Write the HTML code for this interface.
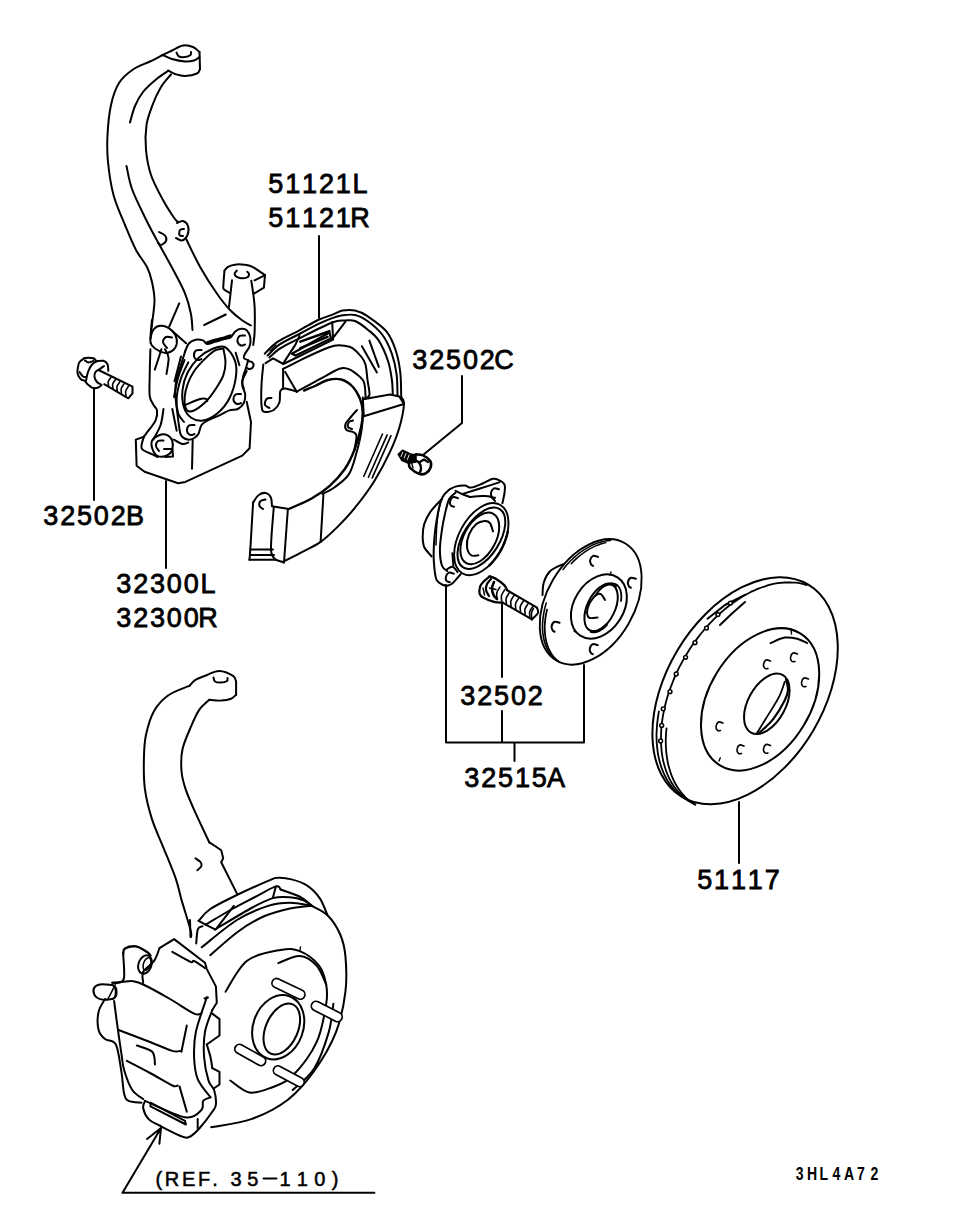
<!DOCTYPE html>
<html><head><meta charset="utf-8">
<style>
html,body{margin:0;padding:0;background:#fff;}
svg{display:block;}
.t{stroke-linejoin:miter;font-family:"Liberation Sans",sans-serif;font-size:27px;fill:#000;stroke:#000;stroke-width:0.8px;}
.s{font-family:"Liberation Sans",sans-serif;font-size:18px;font-weight:bold;fill:#000;}
.l{fill:none;stroke:#000;stroke-width:2;stroke-linecap:round;stroke-linejoin:round;}
</style></head><body>
<svg width="960" height="1210" viewBox="0 0 960 1210">
<rect width="960" height="1210" fill="#fff"/>
<g class="t">
<text x="275.8 292.7 309.5 326.4 343.2 360.1" y="193" text-anchor="middle">51121L</text>
<text x="275.8 292.7 309.5 326.4 343.2 360.1" y="227" text-anchor="middle">51121R</text>
<text x="419.8 436.7 453.5 470.4 487.2 504.1" y="369" text-anchor="middle">32502C</text>
<text x="50.8 67.7 84.5 101.3 118.2 135.1" y="525" text-anchor="middle">32502B</text>
<text x="123.8 140.7 157.5 174.3 191.2 208.1" y="593" text-anchor="middle">32300L</text>
<text x="123.8 140.7 157.5 174.3 191.2 208.1" y="627" text-anchor="middle">32300R</text>
<text x="467.8 484.7 501.5 518.4 535.2" y="705" text-anchor="middle">32502</text>
<text x="471.8 488.7 505.5 522.4 539.2 556.0" y="787" text-anchor="middle">32515A</text>
<text x="704.8 721.6 738.5 755.3 772.2" y="889" text-anchor="middle">51117</text>
<text x="158.8 172.0 188.7 204.0 215.0 225.0 236.0 252.8 269.5 285.0 302.4 319.8 335.2" y="1186" text-anchor="middle" style="font-size:20px;stroke-width:0.5px">(REF. 35<tspan style="fill:none;stroke:none">-</tspan>110)</text>
<g transform="scale(0.78 1)"><text x="1025.3 1041.0 1056.1 1072.4 1088.5 1103.8 1121.0" y="1180" text-anchor="middle" style="font-size:18px;font-weight:bold;stroke-width:0">3HL4A72</text></g>
</g>
<g class="l">
<path d="M319 236V318"/>
<path d="M462 376V423L423 455"/>
<path d="M94 388V500"/>
<path d="M166 481V568"/>
<path d="M446 585V742.5H584V665M502 604V677M502 711V742.5M514.5 742.5V761"/>
<path d="M739 802V863"/>
<path d="M263.5 1178.5H276.5"/>
<path d="M122.5 1192.8H374.4M122.5 1192.8L161 1128M147 1139L161 1128L159.4 1143.7"/>
<path d="M162.5 55.0 C164.1 54.2 168.6 52.1 172.0 50.5 C175.4 48.9 179.5 46.1 183.0 45.5 C186.5 44.9 190.2 45.9 193.0 47.0 C195.8 48.1 198.4 51.2 199.5 52.0"/>
<path d="M199.5 52.0 L200.0 69.0"/>
<path d="M200.0 69.0 C199.5 69.8 199.5 72.3 197.0 73.5 C194.5 74.7 188.7 75.9 185.0 76.0 C181.3 76.1 177.8 74.9 175.0 74.0 C172.2 73.1 169.2 71.1 168.0 70.5"/>
<path d="M162.5 55.0 C164.1 55.7 168.2 57.9 172.0 59.0 C175.8 60.1 181.3 61.2 185.0 61.5 C188.7 61.8 191.6 61.2 194.0 60.5 C196.4 59.8 198.6 57.6 199.5 57.0"/>
<path d="M176.5 52.5 C176.9 53.2 177.6 55.8 179.0 56.5 C180.4 57.2 183.1 57.2 185.0 57.0 C186.9 56.8 189.5 55.8 190.5 55.0 C191.5 54.2 190.9 52.5 191.0 52.0"/>
<path d="M162.5 55.0 C160.4 56.1 154.9 59.1 150.0 61.5 C145.1 63.9 138.2 65.9 133.0 69.5 C127.8 73.1 122.7 77.1 119.0 83.0 C115.3 88.9 112.9 96.3 111.0 105.0 C109.1 113.7 108.0 125.5 107.5 135.0 C107.0 144.5 107.0 152.0 108.0 162.0 C109.0 172.0 110.7 184.5 113.5 195.0 C116.3 205.5 121.2 215.8 125.0 225.0 C128.8 234.2 132.3 243.0 136.0 250.0 C139.7 257.0 144.3 261.7 147.0 267.0 C149.7 272.3 150.8 276.5 152.0 282.0 C153.2 287.5 154.4 293.7 154.5 300.0 C154.6 306.3 153.1 314.5 152.5 320.0 C151.9 325.5 151.1 330.8 150.8 333.0"/>
<path d="M168.0 71.0 C166.0 72.4 160.2 76.0 156.0 79.5 C151.8 83.0 146.5 87.6 143.0 92.0 C139.5 96.4 137.2 100.9 135.0 106.0 C132.8 111.1 130.8 119.8 130.0 122.5"/>
<path d="M171.0 74.5 C169.3 76.6 164.1 81.9 161.0 87.0 C157.9 92.1 154.9 98.7 152.5 105.0 C150.1 111.3 147.6 117.5 146.5 125.0 C145.4 132.5 145.2 141.7 146.0 150.0 C146.8 158.3 148.2 166.7 151.0 175.0 C153.8 183.3 159.3 193.1 163.0 200.0 C166.7 206.9 170.9 213.1 173.3 216.7 C175.7 220.3 176.8 220.9 177.5 221.7"/>
<path d="M126.5 166.0 C127.4 169.8 128.9 180.4 132.0 189.0 C135.1 197.6 141.2 209.6 145.0 217.5 C148.8 225.4 150.3 227.9 155.0 236.7 C159.7 245.4 168.3 260.6 173.3 270.0 C178.3 279.4 182.1 286.1 185.0 293.3 C187.9 300.5 189.6 307.2 190.8 313.3 C192.1 319.4 192.2 327.2 192.5 330.0"/>
<path d="M177.0 223.0 C178.0 222.7 181.2 220.5 183.0 221.0 C184.8 221.5 187.2 223.7 188.0 226.0 C188.8 228.3 188.5 232.6 187.5 235.0 C186.5 237.4 183.9 240.0 182.0 240.5 C180.1 241.0 177.0 238.4 176.0 238.0"/>
<path d="M184.0 229.0 C183.3 229.2 180.8 229.0 180.0 230.0 C179.2 231.0 179.0 234.0 179.5 235.0 C180.0 236.0 182.4 235.8 183.0 236.0"/>
<path d="M159.0 232.0 C160.0 232.6 163.8 234.0 165.0 235.5 C166.2 237.0 166.7 239.4 166.0 241.0 C165.3 242.6 162.3 244.7 161.0 245.0 C159.7 245.3 158.5 243.3 158.0 243.0"/>
<path d="M185.8 238.3 C188.2 243.0 194.8 257.5 200.0 266.7 C205.2 275.9 211.7 286.1 216.7 293.3 C221.7 300.5 225.8 305.6 230.0 310.0 C234.2 314.4 238.2 317.4 241.7 320.0 C245.2 322.6 249.3 324.6 250.8 325.5"/>
<path d="M179.2 303.3 L169.2 326.7"/>
<path d="M204.2 325.0 L225.8 314.5"/>
<path d="M224.5 270.6 C225.1 270.0 226.2 267.9 227.9 266.9 C229.6 265.9 231.9 265.1 234.6 264.7 C237.3 264.3 241.2 264.3 244.2 264.7 C247.2 265.1 248.9 265.2 252.4 266.9 C255.9 268.6 262.9 273.7 265.0 275.1"/>
<path d="M224.5 270.6 C224.3 273.0 223.5 281.7 223.4 284.8 C223.3 287.9 222.8 287.8 223.8 289.2 C224.9 290.6 228.7 292.4 229.7 293.0"/>
<path d="M265.0 275.1 L263.9 287.7 L253.9 293.7"/>
<path d="M254.6 280.3 L263.6 275.8"/>
<path d="M232.0 280.3 L229.0 307.0"/>
<path d="M251.3 280.7 C251.9 285.0 254.1 297.7 254.6 306.3 C255.1 314.9 254.8 325.9 254.6 332.4 C254.4 338.8 253.4 342.9 253.2 345.0"/>
<path d="M236.8 270.6 C236.4 271.2 234.1 273.1 234.6 274.3 C235.1 275.5 237.7 277.5 239.8 278.0 C241.9 278.5 245.6 278.0 247.2 277.3 C248.8 276.6 249.1 274.9 249.1 274.0 C249.1 273.1 247.5 272.1 247.2 271.7"/>
<path d="M151.9 320.0 C151.7 322.2 151.1 329.8 150.8 333.0 C150.6 336.2 150.5 338.0 150.4 339.0"/>
<path d="M150.4 339.0 C150.8 336.2 152.2 330.9 154.1 328.8 C156.0 326.6 159.1 325.4 162.1 325.8 C165.1 326.2 169.9 328.7 172.3 330.9 C174.7 333.1 176.2 336.2 176.7 339.0 C177.2 341.8 176.7 345.4 175.2 347.7 C173.7 350.0 170.4 352.2 167.9 352.8 C165.4 353.4 162.6 352.6 159.9 351.4 C157.2 350.2 153.5 347.6 151.9 345.5 C150.3 343.4 150.0 341.8 150.4 339.0Z"/>
<path d="M172.0 337.5 C171.0 337.4 167.5 336.2 166.0 337.0 C164.5 337.8 162.8 340.2 163.0 342.0 C163.2 343.8 166.3 347.0 167.0 348.0"/>
<path d="M172.3 331.0 L186.1 343.3"/>
<path d="M150.4 349.2 C150.3 353.6 149.8 367.6 149.7 375.4 C149.6 383.2 149.1 390.9 149.7 395.8 C150.3 400.7 152.1 402.2 153.3 404.6 C154.5 407.0 156.6 407.7 157.0 410.4 C157.4 413.1 157.3 416.7 155.5 420.6 C153.7 424.5 147.9 431.1 146.0 433.8 C144.1 436.4 144.2 436.2 143.9 436.7"/>
<path d="M154.8 369.6 C155.3 368.0 156.9 363.4 158.0 360.0 C159.1 356.6 160.8 351.0 161.4 349.2"/>
<path d="M165.0 349.2 C165.6 350.7 168.3 353.9 168.6 358.0 C168.8 362.1 166.8 371.3 166.5 374.0"/>
<path d="M163.5 409.0 C163.0 411.7 162.3 419.9 160.6 425.0 C158.9 430.1 154.5 437.2 153.3 439.6"/>
<path d="M172.3 409.0 L176.7 430.8"/>
<path d="M185.4 350.6 C186.0 349.4 187.3 345.1 189.0 343.3 C190.7 341.5 193.3 340.2 195.6 339.7 C197.9 339.2 200.9 339.7 202.9 340.4 C204.9 341.1 205.4 343.8 207.3 344.0 C209.2 344.2 211.7 342.7 214.6 341.9 C217.5 341.1 222.1 339.7 224.8 339.0 C227.5 338.3 228.9 338.7 230.6 337.5 C232.3 336.3 233.3 333.2 235.0 331.7 C236.7 330.2 238.9 329.0 240.8 328.8 C242.8 328.5 245.1 328.7 246.7 330.2 C248.3 331.7 249.8 334.8 250.3 337.5 C250.8 340.2 250.4 343.6 249.6 346.2 C248.8 348.9 246.2 351.5 245.2 353.5 C244.2 355.5 243.3 356.9 243.8 358.0 C244.2 359.1 247.4 359.8 248.1 360.1"/>
<path d="M248.1 360.1 C247.8 361.4 246.8 365.2 246.0 368.0 C245.2 370.8 243.6 374.0 243.0 376.9 C242.4 379.8 241.9 382.7 242.3 385.6 C242.7 388.5 245.0 391.5 245.2 394.4 C245.4 397.3 245.0 400.6 243.8 403.0 C242.5 405.4 240.3 407.8 237.9 409.0 C235.5 410.2 232.1 409.4 229.2 410.4 C226.3 411.4 224.1 413.1 220.4 414.8 C216.8 416.5 210.5 418.9 207.3 420.6 C204.2 422.3 203.0 422.8 201.5 425.0 C200.0 427.2 199.7 431.6 198.5 433.8 C197.3 435.9 196.0 437.0 194.2 438.0 C192.4 439.0 189.8 440.1 187.6 439.6 C185.4 439.1 182.4 437.6 181.0 435.2 C179.6 432.8 179.6 429.6 178.9 425.0 C178.2 420.4 177.3 412.8 176.7 407.5 C176.1 402.2 175.2 397.9 175.2 393.0 C175.2 388.1 175.6 383.4 176.7 378.3 C177.8 373.2 180.4 366.9 181.8 362.3 C183.2 357.7 184.8 352.6 185.4 350.6"/>
<path d="M207.3 342.5 C208.5 342.1 211.7 340.8 214.6 340.0 C217.5 339.2 222.1 338.2 224.8 337.5 C227.5 336.8 229.6 335.8 230.6 335.5" stroke-width="2.5"/>
<path d="M248.0 361.0 C248.7 361.2 251.1 361.2 252.0 362.0 C252.9 362.8 253.8 364.8 253.5 366.0 C253.2 367.2 251.1 368.7 250.0 369.0 C248.9 369.3 247.5 368.2 247.0 368.0"/>
<path d="M201.5 350.0 C200.6 350.1 197.2 349.5 196.0 350.5 C194.8 351.5 193.8 354.4 194.0 356.0 C194.2 357.6 196.2 359.5 197.5 360.0 C198.8 360.5 200.8 359.2 201.5 359.0"/>
<path d="M245.0 335.5 C244.1 335.6 240.8 335.0 239.5 336.0 C238.2 337.0 237.2 339.9 237.5 341.5 C237.8 343.1 239.8 345.0 241.0 345.5 C242.2 346.0 244.3 344.7 245.0 344.5"/>
<path d="M241.0 394.0 C240.1 394.1 236.8 393.5 235.5 394.5 C234.2 395.5 233.2 398.4 233.5 400.0 C233.8 401.6 235.8 403.5 237.0 404.0 C238.2 404.5 240.3 403.2 241.0 403.0"/>
<path d="M194.5 425.0 C193.6 425.1 190.2 424.5 189.0 425.5 C187.8 426.5 186.8 429.4 187.0 431.0 C187.2 432.6 189.2 434.5 190.5 435.0 C191.8 435.5 193.8 434.2 194.5 434.0"/>
<path d="M224.8 347.0 C228.7 348.9 233.2 355.6 235.0 360.8 C236.8 366.0 236.7 372.0 235.7 378.3 C234.7 384.6 232.2 392.9 229.2 398.8 C226.2 404.6 221.9 409.7 217.5 413.3 C213.1 416.9 207.3 419.9 202.9 420.6 C198.5 421.3 194.4 419.9 191.2 417.7 C188.1 415.5 185.5 412.1 184.0 407.5 C182.5 402.9 181.9 395.8 182.5 390.0 C183.1 384.2 184.9 377.9 187.6 372.5 C190.3 367.1 194.5 361.8 198.5 357.9 C202.5 354.0 207.3 351.0 211.7 349.2 C216.1 347.4 220.9 345.1 224.8 347.0Z"/>
<path d="M223.3 348.4 C223.7 350.7 225.5 357.8 225.5 362.3 C225.5 366.8 224.9 371.0 223.3 375.4 C221.7 379.8 218.9 384.1 216.0 388.5 C213.1 392.9 209.7 397.9 205.8 401.7 C201.9 405.4 196.0 409.8 192.7 411.0 C189.4 412.2 187.4 411.3 186.1 409.0 C184.8 406.7 184.4 401.4 184.7 397.3 C184.9 393.2 186.0 388.6 187.6 384.2 C189.2 379.8 191.4 375.1 194.2 371.0 C197.0 366.9 201.0 362.8 204.4 359.4 C207.8 356.0 211.4 352.4 214.6 350.6 C217.8 348.8 221.9 348.8 223.3 348.4"/>
<path d="M186.1 404.6 C188.2 403.8 195.2 400.5 198.5 399.5 C201.8 398.5 204.3 398.5 205.8 398.8 C207.3 399.0 207.1 400.6 207.3 401.0"/>
<path d="M181.0 356.5 L174.5 381.2"/>
<path d="M188.3 362.3 C187.1 365.0 182.9 372.5 181.0 378.3 C179.1 384.1 177.2 391.5 176.7 397.3 C176.2 403.1 176.9 409.2 178.1 413.3 C179.3 417.4 183.0 420.6 184.0 422.0"/>
<path d="M184.5 360.0 C183.4 363.0 179.8 371.8 178.0 378.0 C176.2 384.2 174.7 393.8 174.0 397.0"/>
<path d="M235.7 352.8 L239.4 365.2"/>
<path d="M246.7 371.0 C246.0 372.7 242.8 378.3 242.3 381.2 C241.8 384.2 243.5 387.3 243.8 388.5"/>
<path d="M143.9 436.7 L135.8 439.6 L136.6 465.8 L144.6 471.7 L178.1 483.3 L185.4 481.9 L242.3 455.6 L249.6 448.3 L251.0 422.0 L246.7 401.7"/>
<path d="M143.9 436.7 C143.5 438.6 140.4 445.4 141.7 448.3 C143.0 451.2 149.2 452.8 151.9 454.2 C154.6 455.6 156.7 456.5 157.7 457.0"/>
<path d="M151.9 441.0 C152.9 438.3 156.6 436.2 159.2 435.2 C161.8 434.2 165.0 434.2 167.2 435.2 C169.4 436.2 171.6 438.3 172.3 441.0 C173.0 443.7 172.6 448.8 171.6 451.2 C170.6 453.7 168.7 454.7 166.5 455.6 C164.3 456.5 160.6 457.1 158.4 456.4 C156.2 455.7 154.4 453.8 153.3 451.2 C152.2 448.7 150.9 443.7 151.9 441.0Z"/>
<path d="M163.5 440.5 C162.6 440.6 159.2 440.1 158.0 441.0 C156.8 441.9 155.8 444.3 156.0 446.0 C156.2 447.7 158.5 450.2 159.0 451.0"/>
<path d="M164.0 449.0 L172.5 449.0 L173.0 456.5 L165.0 457.0"/>
<path d="M173.8 439.6 C175.2 440.3 180.1 443.5 182.5 444.0 C184.9 444.5 187.3 442.8 188.3 442.5"/>
<path d="M192.7 439.6 L192.0 468.8"/>
<path d="M84.2 358.3 C84.8 358.2 86.5 357.8 88.0 357.8 C89.5 357.8 91.8 357.7 93.3 358.3 C94.8 358.9 96.1 360.8 96.7 361.2"/>
<path d="M96.7 361.2 C97.8 361.2 101.5 360.3 103.3 360.8 C105.1 361.3 106.7 362.5 107.5 364.2 C108.3 365.9 108.2 369.7 108.3 370.8"/>
<path d="M84.2 358.3 C83.4 358.9 80.5 360.6 79.5 362.0 C78.5 363.4 78.3 365.1 78.0 367.0 C77.7 368.9 77.0 371.3 77.5 373.3 C78.0 375.3 79.5 377.9 80.8 379.2 C82.0 380.4 84.3 380.5 85.0 380.8"/>
<path d="M85.0 380.8 C85.4 381.4 86.2 383.0 87.5 384.2 C88.8 385.4 90.7 387.3 92.5 387.9 C94.3 388.4 96.8 388.0 98.3 387.5 C99.8 387.0 101.1 385.4 101.7 385.0"/>
<path d="M96.7 361.2 C95.9 361.8 93.5 362.7 92.0 364.5 C90.5 366.3 89.0 369.2 88.0 372.0 C87.0 374.8 86.3 379.5 86.0 381.0"/>
<path d="M85.0 360.5 C85.6 360.8 87.1 362.4 88.5 362.5 C89.9 362.6 92.7 361.2 93.5 361.0"/>
<path d="M79.5 372.0 C80.1 372.8 82.0 375.7 83.0 376.5 C84.0 377.3 85.1 376.9 85.5 377.0"/>
<path d="M104.0 366.0 C103.2 366.6 100.4 368.5 99.0 369.5 C97.6 370.5 96.2 370.8 95.5 372.0 C94.8 373.2 94.2 375.3 94.5 377.0 C94.8 378.7 95.9 380.8 97.0 382.0 C98.1 383.2 100.3 384.1 101.0 384.5"/>
<path d="M99.5 370.5 L132.5 386.7 L132.5 393.3 L128.3 398.3 L104.2 384.2"/>
<path d="M111.0 377.4 C110.5 378.1 108.6 380.2 108.2 381.6 C107.8 383.0 108.5 385.0 108.5 385.7" stroke-width="1.6"/>
<path d="M115.5 379.7 C115.0 380.4 113.1 382.6 112.7 384.0 C112.3 385.5 113.0 387.6 113.0 388.3" stroke-width="1.6"/>
<path d="M119.8 381.8 C119.3 382.6 117.4 384.9 117.0 386.4 C116.6 387.9 117.2 390.1 117.3 390.9" stroke-width="1.6"/>
<path d="M124.0 383.9 C123.5 384.7 121.6 387.1 121.2 388.6 C120.8 390.2 121.5 392.5 121.5 393.3" stroke-width="1.6"/>
<path d="M128.5 386.2 C128.0 387.0 126.1 389.4 125.7 391.1 C125.3 392.7 126.0 395.1 126.0 395.9" stroke-width="1.6"/>
<path d="M264.7 353.7 C266.9 351.7 272.0 345.5 277.8 341.6 C283.6 337.7 292.7 333.9 299.4 330.3 C306.1 326.7 312.5 322.6 318.1 320.0 C323.7 317.4 329.0 316.0 333.1 314.4 C337.2 312.8 338.9 311.2 342.5 310.6 C346.1 310.0 350.8 309.7 355.0 310.6 C359.2 311.5 362.3 312.8 367.5 316.2 C372.7 319.7 381.6 325.6 386.2 331.2 C390.9 336.9 393.3 343.1 395.6 350.0 C397.9 356.9 399.4 364.7 400.3 372.5 C401.2 380.3 401.1 392.8 401.2 396.9"/>
<path d="M267.5 355.6 C269.5 353.7 274.4 348.0 279.7 344.4 C285.0 340.8 292.8 337.4 299.4 334.0 C305.9 330.6 313.5 326.3 319.0 323.7 C324.5 321.1 328.3 319.5 332.2 318.1 C336.1 316.7 338.7 315.8 342.5 315.3 C346.3 314.8 350.8 314.1 355.0 315.0 C359.2 315.9 362.9 317.7 367.5 321.0 C372.1 324.3 378.4 329.5 382.5 335.0 C386.6 340.5 389.5 347.2 391.9 353.8 C394.2 360.3 395.7 367.5 396.6 374.4 C397.5 381.3 397.4 391.6 397.5 395.0"/>
<path d="M269.4 357.5 C271.3 355.9 275.8 351.3 280.6 348.2 C285.4 345.1 289.8 343.1 298.4 338.8 C307.0 334.5 324.3 325.6 332.2 322.5 C340.1 319.4 341.7 320.8 345.5 320.5 C349.3 320.2 351.3 319.5 355.0 321.0 C358.7 322.5 363.5 326.1 367.5 329.4 C371.5 332.7 375.3 335.3 378.8 340.6 C382.2 345.9 385.9 354.7 388.1 361.2 C390.3 367.8 391.1 374.4 391.9 380.0 C392.7 385.6 392.6 392.5 392.8 395.0"/>
<path d="M265.6 363.1 L273.1 358.4 L283.4 364.0 L333.1 339.7 L332.2 321.9"/>
<path d="M333.1 337.8 L345.3 321.9"/>
<path d="M283.4 363.1 L295.6 344.4 L299.4 335.9"/>
<path d="M291.9 353.7 L329.5 332.5 L331.0 338.5 L295.6 355.6 L291.9 353.7" stroke-width="2.2"/>
<path d="M300.3 341.6 L329.4 331.2" stroke-width="2.6"/>
<path d="M300.3 348.1 L327.5 336.9" stroke-width="2.6"/>
<path d="M276.0 345.0 L270.0 351.0" stroke-width="1.2"/>
<path d="M263.3 364.6 C263.0 368.0 261.8 378.1 261.5 385.0 C261.2 391.9 261.1 401.8 261.6 406.2 C262.1 410.7 262.4 411.3 264.4 411.9 C266.4 412.5 271.2 411.6 273.8 410.0 C276.2 408.4 278.3 405.6 279.4 402.5 C280.5 399.4 279.4 393.6 280.3 391.2 C281.2 388.9 282.3 388.3 285.0 388.4 C287.7 388.5 294.8 391.1 296.7 391.7"/>
<path d="M271.5 398.0 C270.7 398.2 267.6 397.8 266.5 399.0 C265.4 400.2 264.5 403.5 265.0 405.0 C265.5 406.5 268.8 407.5 269.5 408.0"/>
<path d="M283.1 368.8 C286.2 367.2 295.8 362.4 301.9 359.4 C308.0 356.4 314.6 353.3 320.0 351.0 C325.4 348.7 330.1 346.7 334.2 345.8 C338.3 344.9 341.6 345.4 344.6 345.8 C347.7 346.2 349.6 346.2 352.5 348.1 C355.4 350.1 359.7 354.7 361.9 357.5 C364.1 360.3 364.7 361.2 365.6 365.0 C366.5 368.8 366.9 375.0 367.5 380.0 C368.1 385.0 370.0 391.9 369.4 395.0 C368.8 398.1 364.7 398.1 363.8 398.8"/>
<path d="M283.1 368.8 L283.1 388.5"/>
<path d="M285.2 371.9 L296.7 391.7"/>
<path d="M296.7 391.7 C300.5 389.6 312.5 383.0 319.6 379.2 C326.7 375.4 334.7 370.5 339.4 368.8 C344.1 367.0 345.1 368.1 347.7 368.8 C350.3 369.4 352.3 370.7 355.0 372.9 C357.7 375.1 362.0 377.9 363.8 381.9 C365.5 385.9 365.3 394.4 365.6 396.9"/>
<path d="M304.0 390.6 C305.8 389.8 311.0 387.8 315.0 386.0 C319.0 384.2 323.6 381.1 328.0 380.0 C332.4 378.9 337.2 378.4 341.2 379.5 C345.3 380.6 349.4 383.3 352.5 386.5 C355.6 389.7 358.3 394.5 360.0 398.8 C361.7 403.0 362.6 407.1 362.8 411.9 C363.0 416.7 362.4 421.1 361.0 427.5 C359.6 433.9 357.1 443.1 354.4 450.0 C351.7 456.9 349.1 462.8 345.0 468.8 C340.9 474.7 335.6 480.6 330.0 485.6 C324.4 490.6 318.1 494.9 311.2 498.8 C304.4 502.6 292.5 507.3 288.8 509.0" stroke-width="2.4"/>
<path d="M363.0 400.0 C362.8 404.5 363.1 418.0 362.0 427.0 C360.9 436.0 358.5 445.9 356.2 453.8 C354.0 461.6 352.3 468.9 348.8 474.4 C345.2 479.9 339.4 483.7 335.0 487.0 C330.6 490.3 324.6 492.8 322.5 494.0"/>
<path d="M369.4 340.6 L378.8 366.9"/>
<path d="M361.9 346.2 L376.9 372.5"/>
<path d="M364.7 399.0 L390.0 394.5 L399.4 396.6 L404.0 404.0 L363.8 416.2"/>
<path d="M362.8 397.5 L363.8 416.2"/>
<path d="M401.2 396.9 C401.7 398.1 404.3 398.9 404.0 404.0 C403.7 409.1 401.7 419.5 399.4 427.5 C397.1 435.5 394.1 443.1 390.0 451.9 C385.9 460.6 380.6 470.9 375.0 480.0 C369.4 489.1 362.5 498.4 356.2 506.2 C350.0 514.1 343.4 521.0 337.5 526.9 C331.6 532.8 326.9 537.5 320.6 541.9 C314.4 546.3 306.2 549.8 300.0 553.1 C293.8 556.4 285.9 560.2 283.1 561.6"/>
<path d="M357.0 410.0 C355.8 411.3 351.9 415.7 350.0 418.0 C348.1 420.3 346.1 422.0 345.5 424.0 C344.9 426.0 345.2 428.7 346.5 430.0 C347.8 431.3 351.3 431.0 353.0 432.0 C354.7 433.0 356.3 433.0 356.5 436.0 C356.7 439.0 354.8 447.7 354.4 450.0"/>
<path d="M353.0 420.5 C352.3 420.8 349.8 420.9 349.0 422.0 C348.2 423.1 347.5 425.8 348.0 427.0 C348.5 428.2 351.3 428.7 352.0 429.0"/>
<path d="M382.5 434.0 L363.8 476.2" stroke-width="1.6"/>
<path d="M387.2 434.9 L368.4 477.2" stroke-width="1.6"/>
<path d="M391.0 435.7 L372.2 477.9" stroke-width="1.6"/>
<path d="M253.1 502.5 C254.0 501.2 256.6 496.6 258.8 495.0 C260.9 493.4 264.2 492.6 266.2 493.1 C268.3 493.6 270.1 495.8 271.0 497.8 C271.9 499.8 271.8 504.1 271.9 505.3"/>
<path d="M271.9 506.2 L288.8 509.0"/>
<path d="M253.1 502.5 C252.6 510.3 250.9 539.9 250.3 549.4 C249.7 558.9 249.6 558.0 249.4 559.7"/>
<path d="M249.4 559.7 L275.6 559.7 L284.0 562.5"/>
<path d="M250.3 549.4 L273.0 549.4"/>
<path d="M250.0 555.0 L274.0 555.0"/>
<path d="M273.8 507.2 C273.3 514.2 270.7 540.6 271.0 549.4 C271.3 558.1 274.8 558.0 275.6 559.7"/>
<path d="M287.8 510.0 L284.0 562.5"/>
<path d="M323.4 495.0 L320.6 541.9"/>
<path d="M265.5 499.5 C264.7 499.8 261.5 499.9 260.5 501.0 C259.5 502.1 259.1 504.7 259.5 506.0 C259.9 507.3 262.4 508.5 263.0 509.0"/>
<path d="M398.3 454.4 L402.5 450.2 L411.4 454.4 L416 455 L416 462 L408.6 463.2 L402 460.5 Z" style="fill:#000;stroke-width:1.6px"/>
<path d="M402.8 452.3 L401.0 456.5" style="stroke:#fff;stroke-width:0.9px"/>
<path d="M406.0 453.6 L404.2 458.0" style="stroke:#fff;stroke-width:0.9px"/>
<path d="M409.2 454.9 L407.4 459.5" style="stroke:#fff;stroke-width:0.9px"/>
<path d="M416.1 454.4 C417.3 454.5 420.8 454.2 423.1 455.3 C425.5 456.4 428.9 459.0 430.2 461.0 C431.4 463.0 431.3 465.5 430.6 467.5 C429.9 469.5 427.8 472.0 426.0 473.1 C424.2 474.2 422.4 474.9 419.8 474.1 C417.2 473.3 412.3 470.1 410.5 468.4 C408.7 466.7 408.9 465.6 409.0 463.8 C409.1 461.9 409.8 458.6 411.0 457.0 C412.2 455.4 415.2 454.8 416.1 454.4" stroke-width="2.6"/>
<path d="M414.5 460.0 C415.2 460.4 417.9 461.1 419.0 462.5 C420.1 463.9 420.9 466.7 421.0 468.5 C421.1 470.3 419.8 472.7 419.5 473.5" stroke-width="2.4"/>
<path d="M419.0 462.5 L424.0 459.5 L428.0 462.0" stroke-width="2.2"/>
<path d="M411.5 462.0 L413.0 468.0" stroke-width="1.4"/>
<path d="M442.0 499.0 C440.1 501.1 433.5 507.4 430.5 511.6 C427.5 515.8 425.6 519.9 424.2 524.1 C422.9 528.3 422.7 532.8 422.7 536.6 C422.7 540.4 422.8 543.7 424.2 547.0 C425.7 550.3 430.3 554.8 431.5 556.4"/>
<path d="M449.2 489.7 C450.3 489.2 452.9 487.3 455.5 486.6 C458.1 485.9 462.3 485.3 464.9 485.5 C467.5 485.7 468.2 487.9 471.1 487.6 C474.1 487.3 479.0 485.0 482.6 483.5 C486.2 482.0 490.2 479.3 493.0 478.8 C495.8 478.3 497.3 479.4 499.2 480.3 C501.2 481.2 503.6 482.4 504.5 484.5 C505.4 486.6 504.9 489.7 504.5 492.8 C504.1 495.9 502.8 501.5 502.4 503.2"/>
<path d="M449.2 489.7 C448.4 490.6 445.4 493.0 444.0 494.9 C442.6 496.8 441.9 498.1 440.9 501.2 C439.9 504.3 438.8 508.2 437.8 513.7 C436.8 519.2 435.4 527.6 434.7 534.5 C434.0 541.4 433.6 549.2 433.6 555.3 C433.6 561.4 434.2 566.8 434.7 571.0 C435.2 575.2 435.5 578.0 436.8 580.3 C438.0 582.5 440.1 583.6 442.0 584.5 C443.9 585.4 446.3 585.9 448.2 585.5 C450.1 585.1 451.3 584.3 453.4 582.4 C455.5 580.5 459.5 575.5 460.7 574.1"/>
<path d="M455.5 492.8 C454.5 493.8 451.0 495.5 449.2 499.0 C447.5 502.5 446.2 508.7 445.0 513.7 C443.8 518.8 442.9 523.2 442.0 529.3 C441.1 535.4 439.9 544.0 439.9 550.1 C439.9 556.2 440.8 562.3 442.0 565.8 C443.2 569.2 446.3 570.1 447.2 571.0"/>
<path d="M440.9 500.1 C440.4 502.7 438.5 510.8 437.8 515.8 C437.1 520.7 436.8 525.1 436.5 530.0 C436.2 534.9 436.1 542.5 436.0 545.0" stroke-width="1.5"/>
<path d="M455.5 490.8 C456.6 491.3 459.6 493.0 462.0 494.0 C464.4 495.0 468.7 496.5 470.0 497.0"/>
<path d="M462.8 493.9 C465.7 493.0 473.9 490.4 480.0 488.5 C486.1 486.6 496.0 483.4 499.2 482.4"/>
<path d="M470.0 497.0 C472.0 496.8 478.7 496.1 482.0 496.0 C485.3 495.9 487.8 495.7 490.0 496.5 C492.2 497.3 494.2 500.2 495.0 501.0"/>
<path d="M452.4 553.2 L453.4 565.8"/>
<path d="M446.1 569.9 C447.2 569.4 450.5 566.4 452.4 566.8 C454.3 567.1 456.7 571.1 457.6 572.0"/>
<path d="M458.0 498.2 C457.2 498.0 454.3 496.6 453.0 497.2 C451.7 497.8 450.3 500.3 450.0 501.7 C449.7 503.1 450.3 504.9 451.0 505.7 C451.7 506.5 453.5 506.5 454.0 506.7"/>
<path d="M499.0 489.3 C498.2 489.1 495.3 487.7 494.0 488.3 C492.7 488.9 491.3 491.4 491.0 492.8 C490.7 494.2 491.3 496.0 492.0 496.8 C492.7 497.6 494.5 497.6 495.0 497.8"/>
<path d="M453.8 573.7 C453.0 573.5 450.1 572.1 448.8 572.7 C447.5 573.3 446.1 575.8 445.8 577.2 C445.5 578.6 446.1 580.4 446.8 581.2 C447.5 582.0 449.3 582.0 449.8 582.2"/>
<ellipse cx="481.3" cy="539.1" rx="39.1" ry="22.5" transform="rotate(-61.5 481.3 539.1)" fill="#fff" stroke-width="1.9"/>
<ellipse cx="481.4" cy="538.2" rx="34.4" ry="18.1" transform="rotate(-57.8 481.4 538.2)" fill="none" stroke-width="2"/>
<ellipse cx="479.8" cy="538.4" rx="28.1" ry="15.9" transform="rotate(-61.2 479.8 538.4)" fill="none" stroke-width="2"/>
<path d="M493.0 531.4 C492.5 530.0 491.3 524.7 489.9 523.0 C488.5 521.3 487.0 520.8 484.7 521.0 C482.4 521.2 478.9 521.9 476.3 524.1 C473.7 526.4 470.6 530.7 469.0 534.5 C467.4 538.3 466.6 543.5 467.0 547.0 C467.4 550.5 469.2 553.9 471.1 555.3 C473.0 556.7 477.2 555.3 478.4 555.3"/>
<path d="M507.8 531.2 C507.7 531.6 507.4 532.9 507.3 533.7 C507.1 534.5 506.9 535.3 506.6 536.2 C506.4 537.0 506.1 537.9 505.9 538.7 C505.6 539.5 505.3 540.4 505.0 541.2 C504.7 542.0 504.4 542.9 504.0 543.7 C503.7 544.5 503.3 545.4 502.9 546.2 C502.5 547.0 502.1 547.8 501.7 548.6 C501.3 549.4 500.9 550.2 500.4 551.0 C500.0 551.8 499.5 552.6 499.0 553.4 C498.5 554.1 498.0 554.9 497.5 555.6 C497.0 556.4 496.5 557.1 496.0 557.8 C495.4 558.5 494.9 559.2 494.3 559.9 C493.8 560.6 493.2 561.3 492.6 561.9 C492.1 562.6 491.5 563.2 490.9 563.8 C490.3 564.4 489.4 565.3 489.1 565.6" stroke-width="2.4"/>
<path d="M489.6 576.4 C488.5 577.4 484.6 580.5 483.0 582.2 C481.4 583.9 480.7 584.7 480.1 586.6 C479.6 588.5 479.2 592.1 479.7 593.9 C480.2 595.7 480.6 596.2 483.0 597.5 C485.4 598.8 490.7 601.0 494.0 601.9 C497.3 602.8 501.2 602.5 502.7 602.6" stroke-width="2.2"/>
<path d="M489.6 576.4 C490.6 576.8 493.0 577.1 495.4 578.6 C497.8 580.1 502.2 583.2 504.2 585.1 C506.1 587.0 506.6 589.4 507.1 590.2" stroke-width="2.4"/>
<path d="M507.1 590.2 L537.0 607.7"/>
<path d="M502.7 602.6 L531.9 619.4"/>
<path d="M537.0 607.7 C537.2 608.6 538.9 610.8 538.0 612.8 C537.1 614.8 532.9 618.3 531.9 619.4"/>
<path d="M533.5 608.5 C533.2 609.2 531.8 611.2 531.5 613.0 C531.2 614.8 531.8 618.3 531.9 619.4" stroke-width="1.6"/>
<path d="M500.0 587.0 C499.5 588.0 497.3 590.8 496.8 592.7 C496.3 594.6 497.0 597.4 497.0 598.3" stroke-width="1.6"/>
<path d="M504.7 589.8 C504.2 590.7 502.0 593.5 501.5 595.4 C501.0 597.3 501.7 600.1 501.7 601.0" stroke-width="1.6"/>
<path d="M509.4 592.5 C508.9 593.5 506.7 596.3 506.2 598.1 C505.7 600.0 506.4 602.8 506.4 603.7" stroke-width="1.6"/>
<path d="M514.1 595.3 C513.6 596.2 511.4 599.0 510.9 600.9 C510.4 602.7 511.1 605.5 511.1 606.4" stroke-width="1.6"/>
<path d="M518.8 598.0 C518.3 599.0 516.1 601.7 515.6 603.6 C515.1 605.4 515.8 608.2 515.8 609.1" stroke-width="1.6"/>
<path d="M523.5 600.8 C523.0 601.7 520.8 604.5 520.3 606.3 C519.8 608.2 520.5 610.9 520.5 611.8" stroke-width="1.6"/>
<path d="M528.2 603.5 C527.7 604.5 525.5 607.2 525.0 609.0 C524.5 610.9 525.2 613.6 525.2 614.5" stroke-width="1.6"/>
<path d="M532.9 606.3 C532.4 607.2 530.2 609.9 529.7 611.8 C529.2 613.6 529.9 616.3 529.9 617.2" stroke-width="1.6"/>
<path d="M491.0 579.0 C490.3 579.8 487.8 582.2 487.0 584.0 C486.2 585.8 485.7 588.0 486.0 590.0 C486.3 592.0 488.5 595.0 489.0 596.0" stroke-width="2.2"/>
<path d="M494.0 582.0 C493.7 583.0 492.1 585.8 492.0 588.0 C491.9 590.2 492.7 593.2 493.5 595.0 C494.3 596.8 496.4 598.3 497.0 599.0" stroke-width="2.6"/>
<path d="M489.5 588.0 L496.0 589.5" stroke-width="1.4"/>
<path d="M483.0 588.0 L484.5 595.0" stroke-width="1.5"/>
<path d="M542.5 595.0 C542.7 592.9 542.5 586.5 543.8 582.5 C545.0 578.5 547.1 574.2 550.0 571.2 C552.9 568.3 558.6 566.1 561.2 565.0 C563.9 563.9 565.2 564.5 566.0 564.4"/>
<ellipse cx="590.7" cy="601.9" rx="67.9" ry="43.7" transform="rotate(-59.7 590.7 601.9)" fill="#fff" stroke-width="1.9"/>
<path d="M559.2 662.1 C558.8 661.9 557.4 661.0 556.6 660.4 C555.7 659.8 554.9 659.1 554.1 658.4 C553.4 657.7 552.6 656.9 551.9 656.1 C551.2 655.3 550.5 654.4 549.9 653.5 C549.3 652.6 548.7 651.6 548.1 650.6 C547.6 649.7 547.0 648.6 546.6 647.6 C546.1 646.5 545.7 645.4 545.3 644.3 C544.9 643.1 544.5 641.9 544.2 640.7 C543.9 639.5 543.6 638.3 543.4 637.0 C543.2 635.8 543.0 634.5 542.8 633.1 C542.7 631.8 542.6 630.5 542.5 629.1 C542.5 627.7 542.5 626.3 542.5 624.9 C542.6 623.5 542.6 622.1 542.8 620.6 C542.9 619.2 543.0 617.7 543.3 616.3 C543.5 614.8 543.7 613.3 544.0 611.8 C544.3 610.3 544.6 608.9 545.0 607.4 C545.4 605.9 546.1 603.6 546.3 602.9" stroke-width="1.6"/>
<path d="M558.3 661.3 C557.9 661.0 556.7 660.0 556.0 659.3 C555.2 658.6 554.5 657.8 553.8 657.0 C553.2 656.2 552.5 655.3 551.9 654.5 C551.3 653.6 550.7 652.6 550.2 651.7 C549.7 650.7 549.2 649.7 548.7 648.7 C548.2 647.6 547.8 646.5 547.4 645.4 C547.1 644.3 546.7 643.2 546.4 642.0 C546.1 640.8 545.9 639.6 545.6 638.4 C545.4 637.2 545.2 635.9 545.1 634.6 C545.0 633.3 544.9 632.0 544.8 630.7 C544.7 629.4 544.7 628.0 544.7 626.7 C544.8 625.3 544.8 623.9 545.0 622.5 C545.1 621.1 545.2 619.7 545.4 618.3 C545.6 616.9 545.8 615.4 546.1 614.0 C546.4 612.5 546.9 610.4 547.0 609.6" stroke-width="1.8"/>
<path d="M563.1 569.4 C563.6 568.8 565.0 567.0 566.0 565.8 C567.0 564.6 568.1 563.5 569.1 562.4 C570.2 561.3 571.2 560.2 572.3 559.2 C573.4 558.1 574.5 557.1 575.6 556.2 C576.7 555.2 577.9 554.3 579.0 553.4 C580.2 552.5 581.3 551.7 582.5 550.9 C583.6 550.1 584.8 549.3 586.0 548.6 C587.1 547.9 588.3 547.2 589.5 546.6 C590.7 546.0 591.9 545.4 593.1 544.8 C594.3 544.3 595.4 543.8 596.6 543.4 C597.8 543.0 599.0 542.6 600.2 542.2 C601.3 541.9 602.5 541.6 603.7 541.4 C604.8 541.1 606.0 540.9 607.1 540.8 C608.2 540.7 609.9 540.6 610.5 540.6" stroke-width="1.5"/>
<path d="M571.3 563.7 C571.8 563.1 573.4 561.5 574.5 560.4 C575.6 559.4 576.7 558.4 577.8 557.4 C578.9 556.5 580.0 555.6 581.2 554.7 C582.3 553.8 583.5 552.9 584.6 552.1 C585.8 551.3 587.0 550.6 588.1 549.9 C589.3 549.1 590.5 548.5 591.7 547.9 C592.8 547.2 594.0 546.6 595.2 546.1 C596.4 545.6 597.6 545.1 598.8 544.7 C600.0 544.2 601.1 543.8 602.3 543.5 C603.5 543.2 605.2 542.8 605.8 542.6" stroke-width="1.5"/>
<path d="M595.4 595.3 C595.5 595.1 596.0 594.4 596.4 593.9 C596.7 593.4 597.1 593.0 597.4 592.5 C597.8 592.1 598.2 591.7 598.5 591.2 C598.9 590.8 599.3 590.4 599.7 590.0 C600.0 589.6 600.4 589.3 600.8 588.9 C601.2 588.5 601.6 588.2 602.0 587.9 C602.4 587.5 602.8 587.2 603.2 586.9 C603.6 586.6 604.0 586.4 604.4 586.1 C604.8 585.8 605.2 585.6 605.6 585.4 C606.0 585.2 606.3 585.0 606.7 584.8 C607.1 584.6 607.5 584.4 607.9 584.3 C608.3 584.1 608.7 584.0 609.1 583.9 C609.5 583.8 609.8 583.7 610.2 583.6 C610.6 583.6 611.0 583.5 611.3 583.5 C611.7 583.4 612.0 583.4 612.4 583.5 C612.7 583.5 613.1 583.5 613.4 583.5 C613.8 583.6 614.1 583.7 614.4 583.8 C614.7 583.9 615.1 584.0 615.4 584.1 C615.7 584.2 616.0 584.4 616.2 584.5 C616.5 584.7 616.8 584.9 617.1 585.1 C617.3 585.3 617.6 585.5 617.8 585.8 C618.1 586.0 618.3 586.3 618.5 586.6 C618.7 586.9 618.9 587.2 619.1 587.5 C619.3 587.8 619.5 588.1 619.7 588.5 C619.9 588.8 620.0 589.2 620.2 589.5 C620.3 589.9 620.4 590.3 620.6 590.7 C620.7 591.1 620.8 591.5 620.9 592.0 C621.0 592.4 621.0 592.9 621.1 593.3 C621.2 593.8 621.2 594.2 621.2 594.7 C621.3 595.2 621.3 595.7 621.3 596.2 C621.3 596.7 621.3 597.2 621.3 597.7 C621.2 598.2 621.2 598.8 621.2 599.3 C621.1 599.8 621.0 600.6 621.0 600.9" stroke-width="1.8"/>
<path d="M602.7 586.2 C602.9 586.1 603.5 585.7 603.9 585.5 C604.3 585.3 604.7 585.1 605.1 585.0 C605.5 584.8 605.9 584.6 606.3 584.5 C606.7 584.4 607.1 584.3 607.5 584.2 C607.9 584.1 608.3 584.1 608.6 584.0 C609.0 584.0 609.4 583.9 609.7 583.9 C610.1 583.9 610.5 584.0 610.8 584.0 C611.2 584.0 611.5 584.1 611.8 584.2 C612.2 584.3 612.5 584.4 612.8 584.5 C613.1 584.6 613.4 584.8 613.7 584.9 C614.0 585.1 614.3 585.3 614.6 585.5 C614.8 585.7 615.2 586.0 615.4 586.1" stroke-width="3"/>
<path d="M606.4 624.8 C606.2 625.0 605.6 625.6 605.2 626.0 C604.8 626.3 604.4 626.7 604.0 627.1 C603.6 627.4 603.2 627.7 602.8 628.1 C602.4 628.4 602.0 628.7 601.6 628.9 C601.2 629.2 600.7 629.5 600.3 629.7 C599.9 629.9 599.5 630.2 599.1 630.4 C598.7 630.6 598.3 630.7 597.9 630.9 C597.5 631.0 597.1 631.2 596.7 631.3 C596.3 631.4 595.9 631.5 595.5 631.6 C595.1 631.6 594.7 631.7 594.4 631.7 C594.0 631.8 593.6 631.8 593.3 631.7 C592.9 631.7 592.5 631.7 592.2 631.6 C591.8 631.6 591.3 631.4 591.2 631.4" stroke-width="3"/>
<path d="M605.0 600.0 C604.2 599.0 602.1 594.0 600.0 593.8 C597.9 593.5 594.6 596.2 592.5 598.8 C590.4 601.2 588.1 605.6 587.5 608.8 C586.9 611.9 587.1 616.0 588.8 617.5 C590.4 619.0 596.0 617.5 597.5 617.5"/>
<path d="M610.0 575.0 L611.0 572.0" stroke-width="1.4"/>
<path d="M574.0 631.0 L576.0 632.0" stroke-width="1.4"/>
<path d="M598.1 556.9 C597.3 556.7 594.4 555.3 593.1 555.9 C591.8 556.5 590.4 559.0 590.1 560.4 C589.8 561.8 590.6 563.5 591.1 564.4 C591.6 565.3 592.8 565.6 593.1 565.9"/>
<path d="M635.9 578.8 C635.1 578.6 632.2 577.2 630.9 577.8 C629.6 578.3 628.2 580.8 627.9 582.2 C627.6 583.7 628.4 585.3 628.9 586.2 C629.4 587.2 630.6 587.5 630.9 587.8"/>
<path d="M559.6 622.8 C558.8 622.6 555.9 621.2 554.6 621.8 C553.3 622.3 551.9 624.8 551.6 626.2 C551.3 627.7 552.1 629.3 552.6 630.2 C553.1 631.2 554.3 631.5 554.6 631.8"/>
<path d="M597.8 645.2 C596.9 645.1 594.1 643.7 592.8 644.2 C591.4 644.8 590.1 647.3 589.8 648.8 C589.4 650.2 590.2 651.8 590.8 652.8 C591.2 653.7 592.4 654.0 592.8 654.2"/>
<ellipse cx="598.9" cy="606.5" rx="34.6" ry="24.8" transform="rotate(-57.5 598.9 606.5)" fill="none" stroke-width="2"/>
<ellipse cx="601.1" cy="607.6" rx="25.4" ry="13.9" transform="rotate(-64.2 601.1 607.6)" fill="none" stroke-width="2"/>
<ellipse cx="745.1" cy="690.8" rx="123.5" ry="78.9" transform="rotate(-59.2 745.1 690.8)" fill="#fff" stroke-width="2"/>
<path d="M688.4 800.7 C687.6 800.2 685.1 798.8 683.5 797.7 C682.0 796.7 680.4 795.5 679.0 794.3 C677.5 793.0 676.1 791.7 674.8 790.3 C673.5 788.9 672.2 787.4 671.0 785.8 C669.8 784.2 668.7 782.5 667.6 780.8 C666.6 779.1 665.6 777.3 664.7 775.4 C663.8 773.5 662.9 771.5 662.2 769.5 C661.4 767.5 660.7 765.4 660.1 763.3 C659.5 761.1 659.0 758.9 658.5 756.6 C658.0 754.4 657.7 752.0 657.4 749.7 C657.1 747.3 656.9 744.9 656.7 742.4 C656.6 740.0 656.5 737.5 656.5 734.9 C656.6 732.4 656.7 729.8 656.9 727.2 C657.0 724.6 657.3 722.0 657.7 719.3 C658.0 716.7 658.7 712.6 658.9 711.3" stroke-width="1.8"/>
<path d="M707.5 618.8 L725.0 605.0 L745.0 594.8"/>
<path d="M695.3 804.5 C694.5 804.0 692.0 802.8 690.4 801.9 C688.8 801.0 687.3 799.9 685.8 798.8 C684.4 797.7 682.9 796.5 681.6 795.2 C680.2 794.0 678.9 792.6 677.7 791.2 C676.5 789.8 675.3 788.2 674.2 786.7 C673.1 785.1 672.0 783.4 671.0 781.7 C670.1 780.0 669.1 778.2 668.3 776.3 C667.5 774.4 666.7 772.5 666.0 770.5 C665.3 768.5 664.6 766.5 664.1 764.4 C663.5 762.3 663.0 760.1 662.6 757.9 C662.2 755.7 661.9 753.4 661.6 751.1 C661.4 748.8 661.2 746.5 661.1 744.1 C661.0 741.7 660.9 739.2 661.0 736.8 C661.0 734.3 661.1 731.8 661.3 729.3 C661.5 726.8 661.7 724.2 662.1 721.6 C662.4 719.1 662.8 716.5 663.3 713.9 C663.8 711.3 664.4 708.6 665.0 706.0 C665.6 703.4 666.3 700.7 667.1 698.1 C667.9 695.5 668.7 692.8 669.6 690.2 C670.5 687.5 671.5 684.9 672.6 682.3 C673.6 679.7 674.7 677.0 675.9 674.5 C677.1 671.9 678.3 669.3 679.6 666.7 C680.9 664.2 682.3 661.6 683.7 659.1 C685.1 656.6 686.6 654.2 688.1 651.7 C689.6 649.3 691.2 646.9 692.8 644.6 C694.5 642.2 696.2 639.9 697.9 637.6 C699.6 635.3 701.4 633.1 703.2 631.0 C705.0 628.8 706.8 626.7 708.7 624.6 C710.6 622.6 712.5 620.6 714.5 618.6 C716.4 616.7 718.4 614.8 720.4 613.0 C722.5 611.2 724.5 609.5 726.6 607.8 C728.6 606.1 730.7 604.5 732.8 603.0 C734.9 601.5 737.0 600.0 739.2 598.7 C741.3 597.3 743.4 596.0 745.6 594.8 C747.7 593.6 749.9 592.5 752.0 591.4 C754.2 590.4 756.4 589.5 758.5 588.6 C760.7 587.7 762.8 586.9 765.0 586.3 C767.1 585.6 769.2 585.0 771.3 584.4 C773.5 583.9 775.6 583.5 777.7 583.2 C779.7 582.9 781.8 582.6 783.8 582.5 C785.9 582.3 787.9 582.3 789.9 582.3 C791.9 582.4 793.8 582.5 795.7 582.7 C797.7 582.9 799.6 583.3 801.4 583.7 C803.2 584.1 805.9 584.9 806.8 585.1" stroke-width="1.8"/>
<path d="M695.2 804.7 C694.4 804.2 692.0 802.7 690.5 801.5 C689.0 800.4 687.5 799.1 686.1 797.8 C684.7 796.5 683.4 795.0 682.1 793.5 C680.8 792.0 679.6 790.4 678.5 788.8 C677.4 787.1 676.3 785.3 675.3 783.5 C674.3 781.7 673.4 779.8 672.6 777.8 C671.7 775.9 670.9 773.8 670.3 771.7 C669.6 769.6 669.0 767.5 668.4 765.3 C667.9 763.0 667.4 760.7 667.1 758.4 C666.7 756.1 666.4 753.7 666.2 751.3 C666.0 748.8 665.8 746.4 665.8 743.8 C665.7 741.3 665.8 738.8 665.9 736.2 C666.0 733.6 666.4 729.6 666.5 728.3" stroke-width="1.8"/>
<path d="M720.0 625.0 L732.0 613.5 L745.0 602.0"/>
<path d="M770.5 643.1 C772.9 642.2 780.3 638.3 784.8 637.6 C789.2 636.9 793.5 637.9 797.2 638.8 C800.9 639.7 805.5 642.4 807.1 643.1"/>
<path d="M791.0 629.0 L791.5 634.0" stroke-width="1.4"/>
<path d="M720.3 757.8 L719.0 761.0" stroke-width="1.4"/>
<path d="M784.8 681.6 C783.8 684.3 781.9 691.3 778.6 697.7 C775.3 704.1 768.6 714.1 765.0 720.0 C761.4 725.9 758.3 730.8 757.0 733.0" stroke-width="1.8"/>
<path d="M786.0 679.0 C786.3 680.8 788.2 686.5 788.0 690.0 C787.8 693.5 787.2 695.4 784.8 700.2 C782.4 705.0 777.6 713.3 773.4 718.8 C769.2 724.2 761.7 730.5 759.4 732.8" stroke-width="2.2"/>
<path d="M770.5 661.0 C769.8 660.8 767.2 659.4 766.0 660.0 C764.8 660.6 763.7 663.1 763.5 664.5 C763.3 665.9 764.2 667.8 765.0 668.5 C765.8 669.2 767.5 668.5 768.0 668.5" stroke-width="1.6"/>
<path d="M797.5 654.0 C796.8 653.8 794.2 652.4 793.0 653.0 C791.8 653.6 790.7 656.1 790.5 657.5 C790.3 658.9 791.2 660.8 792.0 661.5 C792.8 662.2 794.5 661.5 795.0 661.5" stroke-width="1.6"/>
<path d="M808.5 679.0 C807.8 678.8 805.2 677.4 804.0 678.0 C802.8 678.6 801.7 681.1 801.5 682.5 C801.3 683.9 802.2 685.8 803.0 686.5 C803.8 687.2 805.5 686.5 806.0 686.5" stroke-width="1.6"/>
<path d="M723.0 723.0 C722.2 722.8 719.7 721.4 718.5 722.0 C717.3 722.6 716.2 725.1 716.0 726.5 C715.8 727.9 716.8 729.8 717.5 730.5 C718.2 731.2 720.0 730.5 720.5 730.5" stroke-width="1.6"/>
<path d="M744.0 746.0 C743.2 745.8 740.7 744.4 739.5 745.0 C738.3 745.6 737.2 748.1 737.0 749.5 C736.8 750.9 737.8 752.8 738.5 753.5 C739.2 754.2 741.0 753.5 741.5 753.5" stroke-width="1.6"/>
<path d="M770.5 745.5 C769.8 745.3 767.2 743.9 766.0 744.5 C764.8 745.1 763.7 747.6 763.5 749.0 C763.3 750.4 764.2 752.3 765.0 753.0 C765.8 753.7 767.5 753.0 768.0 753.0" stroke-width="1.6"/>
<ellipse cx="760.1" cy="699.4" rx="77.2" ry="50.8" transform="rotate(-58.7 760.1 699.4)" fill="none" stroke-width="2"/>
<ellipse cx="766.8" cy="703.8" rx="32.9" ry="18.7" transform="rotate(-61.3 766.8 703.8)" fill="none" stroke-width="2"/>
<circle cx="730.4" cy="603.1" r="1.9" style="fill:#fff;stroke-width:1.5px"/>
<circle cx="717.9" cy="614.6" r="1.9" style="fill:#fff;stroke-width:1.5px"/>
<circle cx="706.5" cy="628.1" r="1.9" style="fill:#fff;stroke-width:1.5px"/>
<circle cx="695.0" cy="642.7" r="1.9" style="fill:#fff;stroke-width:1.5px"/>
<circle cx="685.6" cy="657.3" r="1.9" style="fill:#fff;stroke-width:1.5px"/>
<circle cx="676.2" cy="674.0" r="1.9" style="fill:#fff;stroke-width:1.5px"/>
<circle cx="670.0" cy="691.7" r="1.9" style="fill:#fff;stroke-width:1.5px"/>
<circle cx="663.2" cy="708.8" r="1.9" style="fill:#fff;stroke-width:1.5px"/>
<circle cx="661.7" cy="725.4" r="1.9" style="fill:#fff;stroke-width:1.5px"/>
<circle cx="660.6" cy="741.0" r="1.9" style="fill:#fff;stroke-width:1.5px"/>
<path d="M189.5 685.8 C190.5 684.8 192.5 681.6 195.4 679.8 C198.3 678.0 203.0 676.5 207.0 675.0 C211.0 673.5 214.8 670.8 219.2 670.9 C223.5 671.0 230.3 674.1 233.1 675.9 C235.9 677.7 235.6 680.8 236.1 681.8"/>
<path d="M236.1 681.8 L236.1 694.7"/>
<path d="M236.1 694.7 C235.3 695.4 233.6 697.7 231.1 698.7 C228.6 699.7 224.8 700.4 221.2 700.6 C217.6 700.8 211.3 699.9 209.3 699.7"/>
<path d="M213.5 677.5 C213.8 678.2 213.8 680.7 215.0 681.5 C216.2 682.3 219.0 682.6 221.0 682.5 C223.0 682.4 225.9 681.8 227.0 681.0 C228.1 680.2 227.4 678.5 227.5 678.0"/>
<path d="M189.5 685.8 C185.9 687.4 173.6 691.4 167.7 695.7 C161.8 700.0 157.4 704.9 153.8 711.5 C150.2 718.1 147.6 727.4 145.9 735.3 C144.2 743.2 144.1 750.2 143.9 759.1 C143.7 768.0 143.6 779.0 144.9 788.9 C146.2 798.8 148.7 808.7 151.8 818.6 C154.9 828.5 159.7 838.4 163.7 848.3 C167.7 858.2 172.6 869.5 175.6 878.1 C178.6 886.7 179.0 891.2 181.5 899.9 C184.0 908.5 188.9 923.8 190.5 930.0 C192.1 936.2 190.9 935.8 191.0 937.0"/>
<path d="M209.3 699.7 C207.7 701.4 202.4 705.3 199.4 709.6 C196.4 713.9 194.3 718.8 191.5 725.4 C188.7 732.0 184.2 741.6 182.5 749.2 C180.8 756.8 181.0 764.4 181.5 771.0 C182.0 777.6 183.2 781.9 185.5 788.9 C187.8 795.9 191.4 803.8 195.4 812.7 C199.4 821.6 207.0 837.5 209.3 842.4"/>
<path d="M209.3 842.4 L215.0 846.0 L221.2 850.3 L223.2 858.3 L221.2 862.2 L237.1 893.9"/>
<path d="M195.4 858.3 C196.2 858.9 199.5 860.7 200.5 862.0 C201.5 863.3 201.9 864.6 201.4 866.0 C200.9 867.4 198.1 869.5 197.4 870.2"/>
<path d="M198.6 920.8 C200.6 918.8 203.9 913.3 210.3 909.0 C216.7 904.7 227.3 899.7 236.9 895.0 C246.5 890.3 261.3 883.8 268.1 880.9 C274.9 878.0 273.6 878.0 277.5 877.8 C281.4 877.5 286.7 878.1 291.6 879.4 C296.6 880.7 302.5 882.5 307.2 885.6 C311.9 888.7 316.3 893.2 319.7 898.1 C323.1 903.0 326.2 912.4 327.5 915.3"/>
<path d="M198.6 920.8 L205.6 924.7 L215.0 929.4"/>
<path d="M205.6 924.7 C210.0 922.1 224.0 913.6 232.2 909.0 C240.4 904.4 247.7 900.8 255.0 897.0 C262.3 893.2 271.6 887.6 275.9 886.4 C280.2 885.1 279.8 889.0 280.6 889.5"/>
<path d="M215.8 929.4 L233.8 905.9"/>
<path d="M275.9 886.4 L272.8 898.1"/>
<path d="M215.0 929.4 C221.2 925.8 242.9 912.7 252.5 907.5 C262.1 902.3 266.6 899.8 272.8 898.1 C279.1 896.4 284.8 896.9 290.0 897.3 C295.2 897.7 300.4 899.1 304.0 900.5 C307.6 901.9 310.6 905.0 311.9 905.9"/>
<path d="M280.6 889.5 C283.7 890.7 294.2 893.9 299.4 896.6 C304.6 899.3 309.8 904.4 311.9 905.9" stroke-width="2.2"/>
<path d="M201.7 947.3 C207.6 942.8 225.8 926.9 236.9 920.0 C248.0 913.1 259.2 908.8 268.1 905.9 C277.0 903.0 282.7 902.8 290.0 902.8 C297.3 902.8 308.2 905.4 311.9 905.9"/>
<path d="M210.3 955.2 C214.7 951.4 228.6 938.7 236.9 932.5 C245.2 926.3 252.5 921.8 260.3 918.0 C268.1 914.2 277.1 911.8 283.8 910.0 C290.4 908.2 295.3 907.7 300.0 907.0 C304.7 906.3 309.9 906.1 311.9 905.9"/>
<path d="M196.2 943.4 C196.5 941.1 196.8 932.3 197.8 929.4 C198.8 926.5 201.7 926.8 202.5 926.2"/>
<path d="M190.0 920.0 L190.5 937.0"/>
<path d="M211.2 1127.3 C218.0 1125.9 239.1 1123.5 251.9 1118.9 C264.7 1114.3 277.5 1107.7 287.9 1099.7 C298.3 1091.7 306.2 1082.1 314.2 1070.9 C322.2 1059.7 330.6 1045.8 335.8 1032.6 C341.0 1019.4 343.8 1004.6 345.4 991.8 C347.0 979.0 346.3 965.5 345.4 955.9 C344.5 946.3 343.0 940.8 340.0 934.0 C337.0 927.2 332.2 920.0 327.5 915.3 C322.8 910.6 314.5 907.5 311.9 905.9"/>
<path d="M225.5 991.8 C229.1 986.6 237.9 967.7 247.1 960.7 C256.3 953.7 271.9 951.5 280.7 949.9 C289.5 948.3 293.4 948.5 299.8 951.1 C306.2 953.7 314.6 959.9 319.0 965.5 C323.4 971.1 325.0 978.2 326.2 984.6 C327.4 991.0 327.8 994.2 326.2 1003.8 C324.6 1013.4 322.2 1030.2 316.6 1042.2 C311.0 1054.2 300.3 1068.1 292.7 1075.7 C285.1 1083.3 278.3 1084.9 271.1 1087.7 C263.9 1090.5 256.3 1093.7 249.5 1092.5 C242.7 1091.3 233.5 1082.5 230.3 1080.5"/>
<path d="M278.3 963.1 C281.9 961.9 293.4 955.5 299.8 955.9 C306.2 956.3 312.2 960.7 316.6 965.5 C321.0 970.3 324.6 981.4 326.2 984.6"/>
<path d="M299.8 951.0 L300.5 947.0" stroke-width="1.4"/>
<path d="M292.7 1090.0 C296.3 1086.4 308.2 1078.1 314.2 1068.5 C320.2 1058.9 325.4 1043.4 328.6 1032.6 C331.8 1021.8 332.6 1008.6 333.4 1003.8"/>
<ellipse cx="278.2" cy="1027.2" rx="25.0" ry="33.0" transform="rotate(20.0 278.2 1027.2)" fill="none" stroke-width="2"/>
<ellipse cx="281.8" cy="1029.0" rx="16.0" ry="27.0" transform="rotate(24.0 281.8 1029.0)" fill="none" stroke-width="2"/>
<path d="M276.6 983.1L300.3 994.5" style="stroke-width:11px;stroke-linecap:round"/>
<path d="M276.6 983.1L300.3 994.5" style="stroke:#fff;stroke-width:7.6px;stroke-linecap:round"/>
<path d="M316.0 1006.0L337.5 1017.0" style="stroke-width:11px;stroke-linecap:round"/>
<path d="M316.0 1006.0L337.5 1017.0" style="stroke:#fff;stroke-width:7.6px;stroke-linecap:round"/>
<path d="M239.5 1049.0L261.0 1061.0" style="stroke-width:11px;stroke-linecap:round"/>
<path d="M239.5 1049.0L261.0 1061.0" style="stroke:#fff;stroke-width:7.6px;stroke-linecap:round"/>
<path d="M278.0 1070.5L299.5 1082.0" style="stroke-width:11px;stroke-linecap:round"/>
<path d="M278.0 1070.5L299.5 1082.0" style="stroke:#fff;stroke-width:7.6px;stroke-linecap:round"/>
<path d="M159.5 948.2 L174.1 939.1 L205.0 962.7 L206.8 969.1 L215.9 986.4 L216.8 1002.7 L212.3 1010.0"/>
<path d="M212.3 1010.0 C211.1 1013.6 206.4 1023.9 205.0 1031.8 C203.6 1039.7 203.5 1049.1 204.1 1057.3 C204.7 1065.5 206.9 1075.5 208.6 1080.9 C210.3 1086.4 212.9 1086.1 214.1 1090.0 C215.3 1093.9 216.2 1100.9 215.9 1104.5 C215.6 1108.1 215.0 1107.8 212.3 1111.8 C209.6 1115.8 203.4 1124.0 199.5 1128.2 C195.6 1132.5 191.9 1136.1 188.6 1137.3 C185.3 1138.5 184.3 1137.5 179.5 1135.5 C174.7 1133.5 164.7 1128.2 159.5 1125.5 C154.3 1122.8 151.3 1122.0 148.6 1119.1 C145.9 1116.2 143.8 1111.2 143.2 1108.2 C142.6 1105.2 144.7 1102.1 145.0 1100.9"/>
<path d="M159.5 948.2 C158.6 950.3 156.8 957.0 154.1 960.9 C151.4 964.8 145.0 968.2 143.2 971.8 C141.4 975.4 143.2 980.9 143.2 982.7"/>
<path d="M131.4 980.9 C133.4 981.5 136.8 981.5 143.2 984.5 C149.6 987.5 161.5 994.1 170.0 999.0 C178.5 1003.9 188.9 1011.2 194.1 1013.6 C199.3 1016.0 200.2 1013.6 201.4 1013.6"/>
<path d="M123.2 953.6 C123.5 952.8 122.9 949.7 125.0 948.5 C127.1 947.3 132.3 945.9 135.9 946.4 C139.5 946.9 144.4 950.3 146.8 951.8 C149.2 953.3 149.9 954.9 150.5 955.5" stroke-width="2.4"/>
<path d="M123.2 953.6 C123.3 957.5 124.7 972.4 124.1 977.3 C123.5 982.1 121.5 981.8 119.5 982.7 C117.5 983.6 113.5 982.7 112.3 982.7"/>
<path d="M112.0 985.0 C110.0 984.9 103.0 984.0 100.0 984.5 C97.0 985.0 95.0 986.2 94.1 988.0 C93.2 989.8 93.5 993.1 94.5 995.0 C95.5 996.9 97.1 998.4 100.0 999.1 C102.9 999.8 109.3 999.5 112.0 999.0 C114.7 998.5 115.3 997.8 116.0 996.0 C116.7 994.2 116.7 989.8 116.0 988.0 C115.3 986.2 112.7 985.5 112.0 985.0"/>
<path d="M112.5 985.0 C112.5 985.0 112.6 985.0 112.7 985.0 C112.8 985.0 112.8 985.0 112.9 985.1 C113.0 985.1 113.1 985.1 113.1 985.2 C113.2 985.2 113.3 985.2 113.3 985.3 C113.4 985.3 113.5 985.4 113.5 985.4 C113.6 985.5 113.7 985.5 113.7 985.6 C113.8 985.7 113.8 985.7 113.9 985.8 C114.0 985.9 114.0 986.0 114.1 986.1 C114.1 986.1 114.2 986.2 114.3 986.3 C114.3 986.4 114.4 986.5 114.4 986.6 C114.5 986.7 114.5 986.9 114.6 987.0 C114.6 987.1 114.7 987.2 114.7 987.3 C114.8 987.4 114.8 987.6 114.9 987.7 C114.9 987.8 114.9 988.0 115.0 988.1 C115.0 988.2 115.1 988.4 115.1 988.5 C115.1 988.6 115.2 988.8 115.2 988.9 C115.2 989.1 115.3 989.2 115.3 989.4 C115.3 989.5 115.3 989.7 115.4 989.8 C115.4 990.0 115.4 990.1 115.4 990.3 C115.4 990.5 115.4 990.6 115.5 990.8 C115.5 990.9 115.5 991.1 115.5 991.3 C115.5 991.4 115.5 991.6 115.5 991.8 C115.5 991.9 115.5 992.1 115.5 992.2 C115.5 992.4 115.5 992.6 115.5 992.7 C115.5 992.9 115.5 993.1 115.5 993.2 C115.4 993.4 115.4 993.5 115.4 993.7 C115.4 993.9 115.4 994.0 115.4 994.2 C115.3 994.3 115.3 994.5 115.3 994.6 C115.3 994.8 115.2 994.9 115.2 995.1 C115.2 995.2 115.1 995.4 115.1 995.5 C115.1 995.6 115.0 995.8 115.0 995.9 C114.9 996.0 114.9 996.2 114.9 996.3 C114.8 996.4 114.8 996.6 114.7 996.7 C114.7 996.8 114.6 996.9 114.6 997.0 C114.5 997.1 114.5 997.3 114.4 997.4 C114.4 997.5 114.3 997.6 114.3 997.7 C114.2 997.8 114.1 997.9 114.1 997.9 C114.0 998.0 114.0 998.1 113.9 998.2 C113.8 998.3 113.8 998.3 113.7 998.4 C113.7 998.5 113.6 998.5 113.5 998.6 C113.5 998.6 113.4 998.7 113.3 998.7 C113.3 998.8 113.2 998.8 113.1 998.8 C113.1 998.9 113.0 998.9 112.9 998.9 C112.8 999.0 112.8 999.0 112.7 999.0 C112.6 999.0 112.5 999.0 112.5 999.0" stroke-width="1.5"/>
<path d="M105.0 999.1 C103.9 1001.2 99.7 1006.6 98.6 1011.8 C97.5 1016.9 97.5 1025.5 98.6 1030.0 C99.7 1034.5 102.1 1036.7 105.0 1039.1 C107.9 1041.5 113.2 1039.0 115.9 1044.5 C118.6 1050.0 120.0 1063.6 121.4 1071.8 C122.8 1080.0 122.9 1088.8 124.1 1093.6 C125.3 1098.4 125.7 1099.4 128.6 1100.9 C131.5 1102.4 139.3 1102.4 141.4 1102.7"/>
<path d="M114.1 1000.9 C114.7 1005.5 116.5 1019.4 117.7 1028.2 C118.9 1037.0 120.3 1046.6 121.4 1053.6 C122.5 1060.6 122.3 1063.9 124.1 1070.0 C125.9 1076.1 129.1 1085.2 132.3 1090.0 C135.5 1094.8 141.4 1097.6 143.2 1099.1"/>
<path d="M118.6 1030.0 C123.8 1032.0 141.1 1038.5 150.0 1042.0 C158.9 1045.5 167.2 1049.4 172.3 1050.9 C177.4 1052.4 179.1 1050.9 180.5 1050.9"/>
<path d="M126.8 1060.9 C130.7 1062.9 142.4 1068.9 150.0 1073.0 C157.6 1077.1 167.7 1083.4 172.3 1085.5 C176.9 1087.6 176.8 1085.5 177.7 1085.5"/>
<path d="M186.8 1025.5 L181.4 1051.8"/>
<path d="M179.5 1086.4 L186.8 1111.8"/>
<path d="M136.8 1045.5 C139.4 1046.5 149.3 1048.6 152.3 1051.8 C155.3 1055.0 154.6 1062.4 155.0 1064.5"/>
<path d="M172.3 951.8 C175.3 953.5 186.9 960.3 190.5 961.8 C194.1 963.3 191.7 959.8 194.1 960.9 C196.5 962.0 203.2 967.0 205.0 968.2"/>
<path d="M150.5 1102.7 L185.0 1120.9 L185.9 1124.5 L150.5 1106.4 L150.5 1102.7"/>
<path d="M145.0 1100.9 C151.7 1103.6 175.6 1115.8 185.0 1117.3 C194.4 1118.8 198.4 1112.7 201.4 1110.0 C204.4 1107.3 201.7 1103.0 203.2 1100.9 C204.7 1098.8 209.3 1097.9 210.5 1097.3"/>
<path d="M197.7 1119.1 L197.7 1128.2"/>
<path d="M206.8 997.3 C205.0 1003.0 198.0 1021.8 195.9 1031.8 C193.8 1041.8 193.8 1049.4 194.1 1057.3 C194.4 1065.2 195.0 1072.4 197.7 1079.1 C200.4 1085.8 208.4 1094.3 210.5 1097.3"/>
<path d="M204.5 998.5 L208.0 997.5"/>
<path d="M212.3 1013.6 L219.5 1019.1 L219.5 1035.5 L206.8 1044.5"/>
<path d="M212.3 1068.2 L219.5 1071.8 L219.5 1084.5 L214.1 1088.2"/>
<path d="M206.8 1044.5 C207.4 1046.6 209.6 1053.3 210.5 1057.3 C211.4 1061.2 212.0 1066.4 212.3 1068.2"/>
<path d="M112.3 982.7 L131.4 980.9"/>
<path d="M116.0 983.0 C114.8 985.3 110.5 994.2 109.0 997.0 C107.5 999.8 107.3 999.5 107.0 1000.0" stroke-width="1.5"/>
<ellipse cx="145.0" cy="964.5" rx="6.5" ry="9.5" transform="rotate(20.0 145.0 964.5)" fill="none" stroke-width="2"/>
<ellipse cx="147.0" cy="964.0" rx="3.5" ry="6.5" transform="rotate(20.0 147.0 964.0)" fill="none" stroke-width="1.5"/>
</g>
</svg>
</body></html>
